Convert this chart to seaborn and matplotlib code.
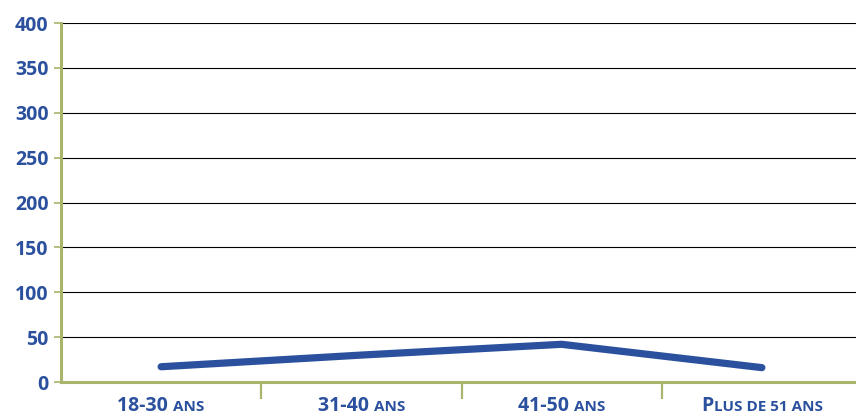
import matplotlib
matplotlib.use("Agg")
import matplotlib.pyplot as plt
import pandas as pd
import seaborn as sns

# tranches d'âge (partie chiffrée + partie en petites capitales)
ages_main = ["18-30 ", "31-40 ", "41-50 ", "P"]
ages_small = ["ANS", "ANS", "ANS", "LUS DE 51 ANS"]
categories = ["18-30 ans", "31-40 ans", "41-50 ans", "Plus de 51 ans"]
values = [17, 30, 42, 16]
y_ticks = [0, 50, 100, 150, 200, 250, 300, 350, 400]

blue = "#2B519E"
olive = "#A9B46C"

df = pd.DataFrame({"age": categories, "n": values})

sns.set_style("white")
plt.rcParams["font.family"] = ["Open Sans", "DejaVu Sans"]

fig = plt.figure(figsize=(8.56, 4.12), dpi=100)
ax = fig.add_axes([61 / 856, 30 / 412, 801 / 856, 359 / 412])

sns.lineplot(data=df, x="age", y="n", sort=False, color=blue, lw=5.2,
             solid_capstyle="round", ax=ax, zorder=3)

ax.set_xlim(-0.5, 3.5)
ax.set_ylim(0, 400)
ax.set_yticks(y_ticks)
ax.set_yticklabels([str(v) for v in y_ticks], color=blue, fontsize=14,
                   fontweight="bold")
for v in y_ticks[1:]:
    ax.axhline(v, color="black", lw=0.8, zorder=1)

ax.set_xticks([0.5, 1.5, 2.5])
ax.set_xticklabels([])
ax.tick_params(axis="x", bottom=True, direction="out", length=12, width=1.6,
               color=olive)
ax.tick_params(axis="y", left=True, direction="out", length=5, width=1.2,
               color=olive, pad=4)

for s in ["top", "right"]:
    ax.spines[s].set_visible(False)
ax.spines["left"].set_color(olive)
ax.spines["left"].set_linewidth(2.2)
ax.spines["bottom"].set_color(olive)
ax.spines["bottom"].set_linewidth(2.2)
ax.set_xlabel("")
ax.set_ylabel("")

# étiquettes en petites capitales, centrées sous chaque catégorie
base = -21.0  # ligne de base, en points sous l'axe
fig.canvas.draw()
renderer = fig.canvas.get_renderer()
px2pt = 72 / fig.dpi
for i, (a, b) in enumerate(zip(ages_main, ages_small)):
    kw = dict(xy=(i, 0), xycoords=("data", "axes fraction"),
              textcoords="offset points", ha="left", va="baseline",
              color=blue, fontweight="bold")
    t1 = ax.annotate(a, xytext=(0, base), fontsize=14, **kw)
    t2 = ax.annotate(b, xytext=(0, base), fontsize=11, **kw)
    fig.canvas.draw()
    w1 = t1.get_window_extent(renderer).width * px2pt
    w2 = t2.get_window_extent(renderer).width * px2pt
    t1.set_position((-(w1 + w2) / 2, base))
    t2.set_position((-(w1 + w2) / 2 + w1, base))

fig.savefig("out.png", dpi=100)
